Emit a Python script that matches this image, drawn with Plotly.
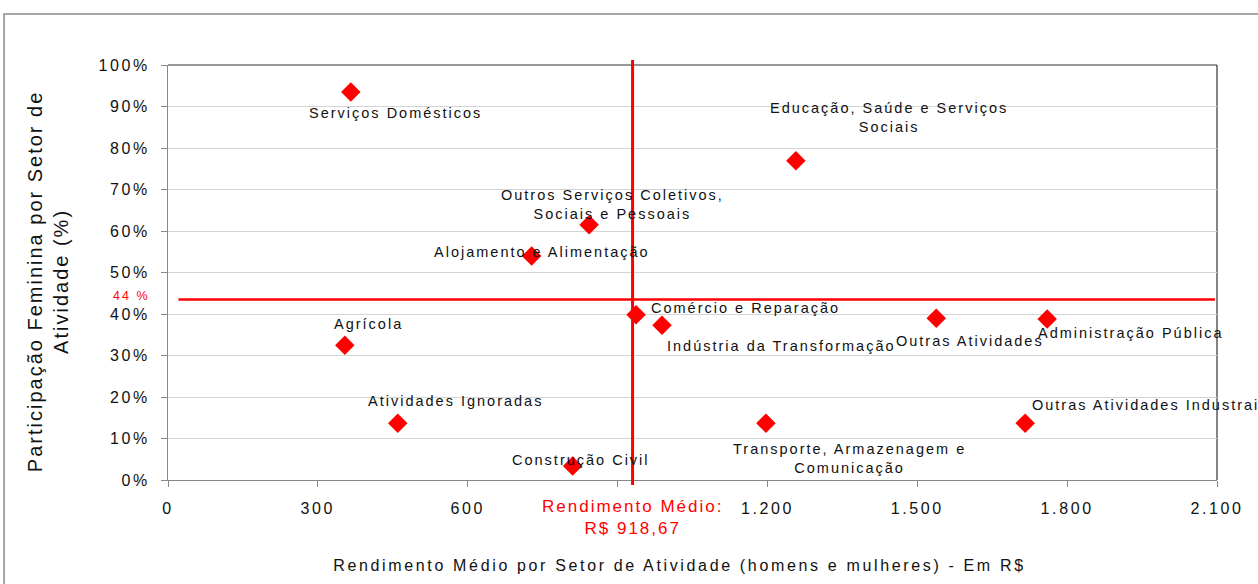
import plotly.graph_objects as go

# ---- data ----
setores = [
    "Serviços Domésticos",
    "Educação, Saúde e Serviços<br>Sociais",
    "Outros Serviços Coletivos,<br>Sociais e Pessoais",
    "Alojamento e Alimentação",
    "Agrícola",
    "Atividades Ignoradas",
    "Construção Civil",
    "Comércio e Reparação",
    "Indústria da Transformação",
    "Outras Atividades",
    "Administração Pública",
    "Transporte, Armazenagem e<br>Comunicação",
    "Outras Atividades Industrais",
]
rendimento = [366, 1257, 843, 728, 354, 460, 810, 937, 989, 1538, 1760, 1197, 1716]
participacao = [93.5, 76.9, 61.5, 54.0, 32.5, 13.7, 3.4, 39.8, 37.3, 39.0, 38.8, 13.7, 13.7]

# label offsets (pixels) relative to each point: dx, dy (up positive), anchor
label_dx = [45, 93, 23, 10, 24, 58, 8, 109, 119, 34, 84, 84, 33]
label_dy = [-21, 43, 20, 4, 21, 22, 6, 7, -21, -23, -14, -35, 18]
label_anchor = ["center"] * 12 + ["left"]

rend_medio = 930          # position of the vertical reference line
rend_medio_txt = "Rendimento Médio:<br>R$ 918,67"
part_media = 43.5         # position of the horizontal reference line
part_media_txt = "44 %"

x_ticks = [0, 300, 600, 900, 1200, 1500, 1800, 2100]
x_ticktext = ["0", "300", "600", "", "1.200", "1.500", "1.800", "2.100"]
y_ticks = [0, 10, 20, 30, 40, 50, 60, 70, 80, 90, 100]
y_ticktext = ["0%", "10%", "20%", "30%", "40%", "50%", "60%", "70%", "80%", "90%", "100%"]

FONT = "Liberation Sans, Arial, sans-serif"
RED = "#FF0000"
INK = "#111111"

fig = go.Figure()
fig.add_trace(go.Scatter(
    x=rendimento, y=participacao, mode="markers",
    marker=dict(symbol="diamond", size=15, color=RED, line=dict(width=0)),
    cliponaxis=False, hoverinfo="skip", showlegend=False,
))

annotations = []
for name, xv, yv, dx, dy, anc in zip(setores, rendimento, participacao,
                                      label_dx, label_dy, label_anchor):
    annotations.append(dict(
        x=xv, y=yv, xref="x", yref="y", text=name, showarrow=False,
        xshift=dx, yshift=dy, xanchor=anc, yanchor="middle", align="center",
        font=dict(family=FONT, size=14.5, color=INK),
    ))

# reference line labels
annotations.append(dict(
    x=rend_medio, y=-0.09, xref="x", yref="paper", text=rend_medio_txt,
    showarrow=False, xanchor="center", yanchor="middle", align="center",
    font=dict(family=FONT, size=17, color=RED),
))
annotations.append(dict(
    x=-0.019, y=part_media, xref="paper", yref="y", text=part_media_txt,
    showarrow=False, xanchor="right", yanchor="middle", yshift=3,
    font=dict(family=FONT, size=12.5, color=RED),
))
# axis titles
annotations.append(dict(
    x=0.488, y=-0.205, xref="paper", yref="paper",
    text="Rendimento Médio por Setor de Atividade (homens e mulheres) - Em R$",
    showarrow=False, xanchor="center", yanchor="middle",
    font=dict(family=FONT, size=16, color=INK),
))
annotations.append(dict(
    x=-0.115, y=0.48, xref="paper", yref="paper",
    text="Participação Feminina por Setor de<br>Atividade (%)",
    showarrow=False, textangle=-90, xanchor="center", yanchor="middle",
    font=dict(family=FONT, size=20, color=INK),
))

shapes = [
    # vertical average line
    dict(type="line", xref="x", yref="paper", x0=rend_medio, x1=rend_medio,
         y0=-0.012, y1=1.012, line=dict(color=RED, width=3)),
    # horizontal average line
    dict(type="line", xref="paper", yref="y", x0=0.01, x1=0.998,
         y0=part_media, y1=part_media, line=dict(color=RED, width=2.5)),
    # plot area top and right borders
    dict(type="line", xref="paper", yref="paper", x0=0, x1=1, y0=1, y1=1,
         line=dict(color="#333", width=1.2), layer="below"),
    dict(type="line", xref="paper", yref="paper", x0=1, x1=1, y0=0, y1=1,
         line=dict(color="#333", width=1.2), layer="below"),
    # outer chart border
    dict(type="rect", xref="paper", yref="paper", x0=-0.1563, x1=1.045,
         y0=-0.27, y1=1.1229, line=dict(color="#8a8a8a", width=1.5)),
]

fig.update_layout(
    width=1258, height=584,
    margin=dict(l=168, r=41, t=65, b=104),
    paper_bgcolor="white", plot_bgcolor="white",
    font=dict(family=FONT, color=INK),
    showlegend=False,
    annotations=annotations, shapes=shapes,
    xaxis=dict(
        range=[0, 2100], tickvals=x_ticks, ticktext=x_ticktext,
        showgrid=False, zeroline=False, showline=True, linecolor="#888",
        linewidth=1, ticks="outside", ticklen=6, tickcolor="#888",
        ticklabelstandoff=8,
        tickfont=dict(family=FONT, size=16, color=INK),
        fixedrange=True,
    ),
    yaxis=dict(
        range=[0, 100], tickvals=y_ticks, ticktext=y_ticktext,
        showgrid=True, gridcolor="#D4D4D4", gridwidth=1,
        zeroline=False, showline=True, linecolor="#888", linewidth=1,
        ticks="outside", ticklen=6, tickcolor="#888",
        ticklabelstandoff=8,
        tickfont=dict(family=FONT, size=16, color=INK),
        fixedrange=True,
    ),
)

# page styling: no body margin, spaced lettering like the original rendering
post_js = (
    "document.body.style.margin='0';"
    "var st=document.createElement('style');"
    "st.textContent='.main-svg text{letter-spacing:2px}"
    " .xtick text,.ytick text{letter-spacing:2.6px}"
    " .annotation[data-index=\"15\"] text{letter-spacing:2.65px}';"
    "document.head.appendChild(st);"
)

fig.write_html("out.html", post_script=post_js,
               config={"displayModeBar": False, "staticPlot": True})
